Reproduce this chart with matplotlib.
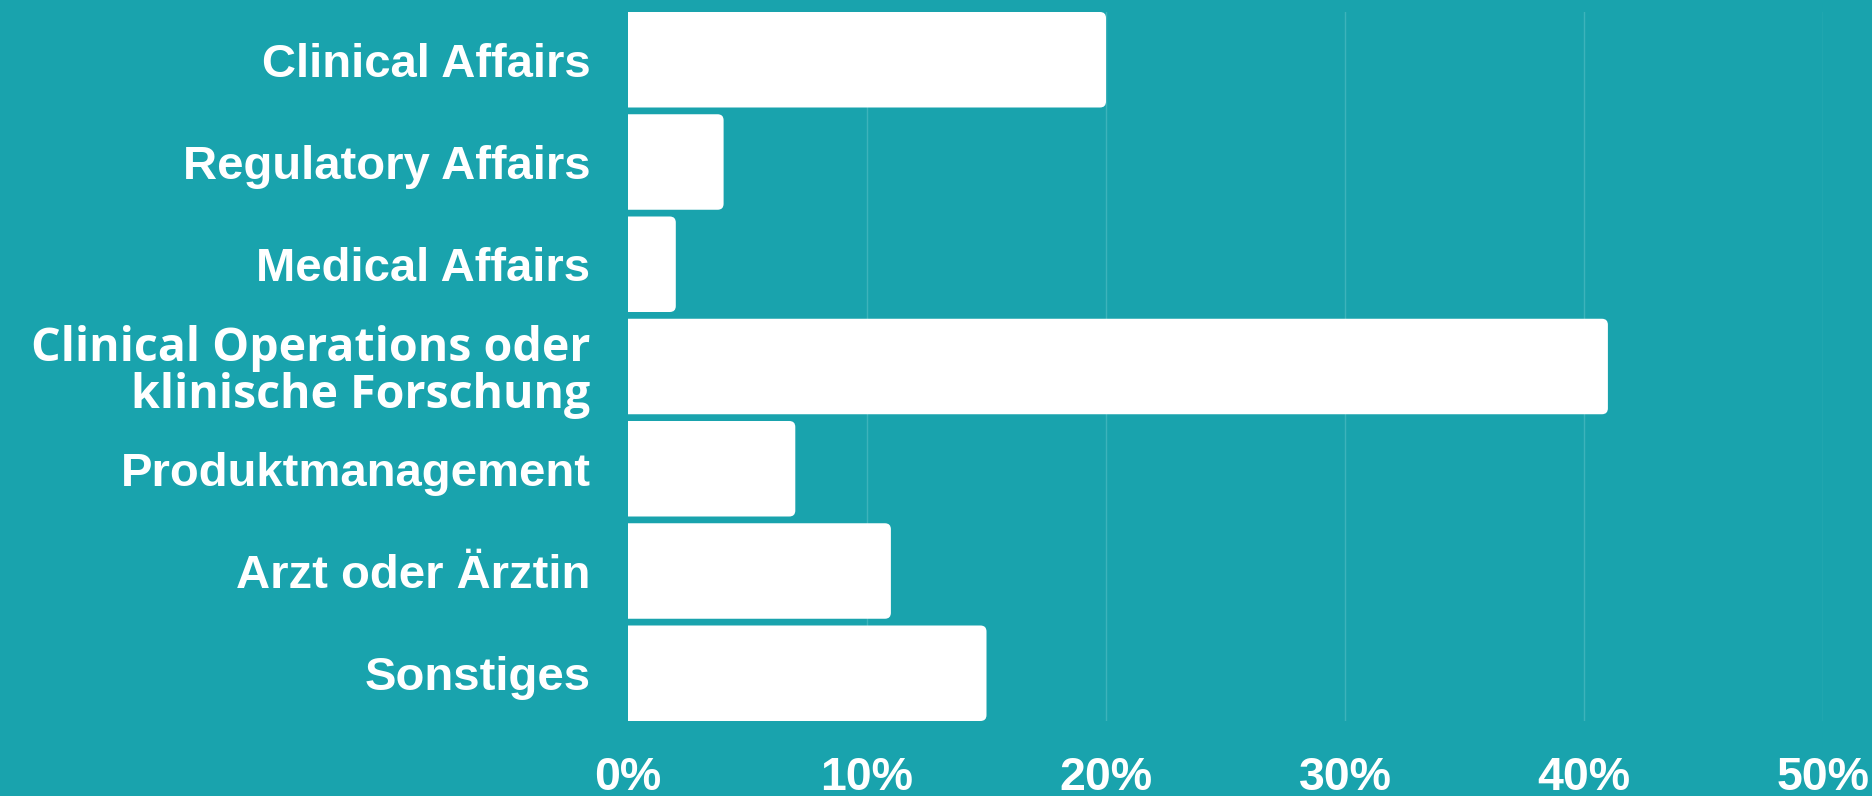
import matplotlib
matplotlib.use("Agg")
import matplotlib.pyplot as plt
from matplotlib.patches import FancyBboxPatch

categories = ["Clinical Affairs", "Regulatory Affairs", "Medical Affairs",
              "Clinical Operations oder\nklinische Forschung", "Produktmanagement",
              "Arzt oder Ärztin", "Sonstiges"]
values = [20, 4, 2, 41, 7, 11, 15]
xticks = [0, 10, 20, 30, 40, 50]
xticklabels = ["0%", "10%", "20%", "30%", "40%", "50%"]

bg = "#19a3ad"
W, H = 1872, 796
fig = plt.figure(figsize=(W/100, H/100), dpi=100, facecolor=bg)
ax_l, ax_b, ax_w, ax_h = 628/W, 1 - 721/H, (1823-628)/W, (721-12)/H
ax = fig.add_axes([ax_l, ax_b, ax_w, ax_h], facecolor=bg)

h = 0.934
y = list(range(len(categories)))
bars = ax.barh(y, values, height=h, color="white", zorder=3)
ny = len(categories) - 1 + h
ax.set_ylim(len(categories) - 1 + h/2, -h/2)
ax.set_xlim(0, 50)

px_x = ax_w * W / 50.0
px_y = ax_h * H / ny
rx = 6.0 / px_x
asp = px_x / px_y
for b in bars:
    x0, y0, w, hh = b.get_x(), b.get_y(), b.get_width(), b.get_height()
    b.set_visible(False)
    p = FancyBboxPatch((x0 - 1.0, y0), w + 1.0, hh,
                       boxstyle=f"round,pad=0,rounding_size={rx}",
                       mutation_aspect=asp, facecolor="white", edgecolor="none",
                       zorder=3)
    ax.add_patch(p)

for t in xticks[1:]:
    ax.axvline(t, color="#3db3bb", lw=1.0, zorder=1)

for s in ax.spines.values():
    s.set_visible(False)

ax.set_xticks(xticks)
ax.set_xticklabels(xticklabels, fontsize=33.5, fontweight="bold", color="white",
                   fontfamily="Liberation Sans")
ax.tick_params(axis="x", length=0, pad=25)
ax.set_yticks(y)
ax.set_yticklabels(categories, fontsize=34, fontweight="bold", color="white",
                   fontfamily="Liberation Sans")
ax.tick_params(axis="y", length=0, pad=27)
lab = ax.get_yticklabels()[3]
lab.set_fontfamily("Open Sans")
lab.set_fontsize(33.5)
lab.set_linespacing(1.0)

fig.savefig("out.png", dpi=100, facecolor=bg)
